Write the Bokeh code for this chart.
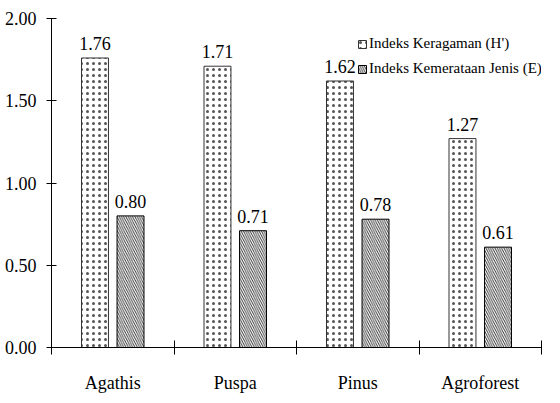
from bokeh.plotting import figure
from bokeh.models import FixedTicker, NumeralTickFormatter, Range1d, Legend, LegendItem, ColumnDataSource, LabelSet
from bokeh.core.properties import value
from bokeh.embed import file_html
from bokeh.resources import INLINE

categories = ["Agathis", "Puspa", "Pinus", "Agroforest"]
h_values = [1.76, 1.71, 1.62, 1.27]
e_values = [0.80, 0.71, 0.78, 0.61]
series_names = ["Indeks Keragaman (H')", "Indeks Kemerataan Jenis (E)"]
y_ticks = [0.0, 0.5, 1.0, 1.5, 2.0]

FONT = "Liberation Serif"
OFF = 0.145
BW = 0.22

p = figure(width=544, height=395, output_backend="svg", toolbar_location=None,
           x_range=Range1d(0, len(categories)), y_range=Range1d(0, 2.0),
           min_border_left=51, min_border_right=3, min_border_top=18, min_border_bottom=34)
p.outline_line_color = None
p.xgrid.visible = False
p.ygrid.visible = False
p.background_fill_color = "white"

xh = [i + 0.5 - OFF for i in range(len(categories))]
xe = [i + 0.5 + OFF for i in range(len(categories))]
src_h = ColumnDataSource(dict(x=xh, top=h_values, lab=["%.2f" % v for v in h_values]))
src_e = ColumnDataSource(dict(x=xe, top=e_values, lab=["%.2f" % v for v in e_values]))

r1 = p.vbar(x="x", top="top", width=BW, source=src_h, fill_color="white",
            line_color="#333333", line_width=1, hatch_pattern="dot", hatch_color="#555555",
            hatch_scale=6, hatch_weight=0.5)
r2 = p.vbar(x="x", top="top", width=BW, source=src_e, fill_color="white",
            line_color="black", line_width=1, hatch_pattern="left_diagonal_line",
            hatch_color="black", hatch_scale=4.5, hatch_weight=0.8)

for s in (src_h, src_e):
    p.add_layout(LabelSet(x="x", y="top", text="lab", source=s, y_offset=8,
                          text_align="center", text_baseline="bottom",
                          text_font=value(FONT), text_font_size=value("18px"), text_color="black"))

# x axis
xa = p.xaxis[0]
xa.ticker = FixedTicker(ticks=[i + 0.5 for i in range(len(categories))],
                        minor_ticks=list(range(len(categories) + 1)))
xa.major_label_overrides = {i + 0.5: c for i, c in enumerate(categories)}
xa.major_tick_in = 0
xa.major_tick_out = 0
xa.minor_tick_in = 7
xa.minor_tick_out = 7
xa.minor_tick_line_color = "black"
xa.axis_line_color = "black"
xa.major_label_standoff = 18
xa.major_label_text_font = FONT
xa.major_label_text_font_size = "18px"
xa.major_label_text_color = "black"

ya = p.yaxis[0]
ya.ticker = FixedTicker(ticks=y_ticks, minor_ticks=[])
ya.formatter = NumeralTickFormatter(format="0.00")
ya.major_tick_in = 5
ya.major_tick_out = 5
ya.major_tick_line_color = "black"
ya.axis_line_color = "black"
ya.major_label_standoff = 10
ya.major_label_text_font = FONT
ya.major_label_text_font_size = "18px"
ya.major_label_text_color = "black"

legend = Legend(items=[LegendItem(label=series_names[0], renderers=[r1]),
                       LegendItem(label=series_names[1], renderers=[r2])],
                location=(306, 270), glyph_width=10, glyph_height=10,
                label_standoff=2, padding=0, spacing=8, margin=0,
                border_line_color=None, background_fill_alpha=0,
                label_text_font=FONT, label_text_font_size="15px", label_text_color="black")
p.add_layout(legend)

open("out.html", "w").write(file_html(p, INLINE))
